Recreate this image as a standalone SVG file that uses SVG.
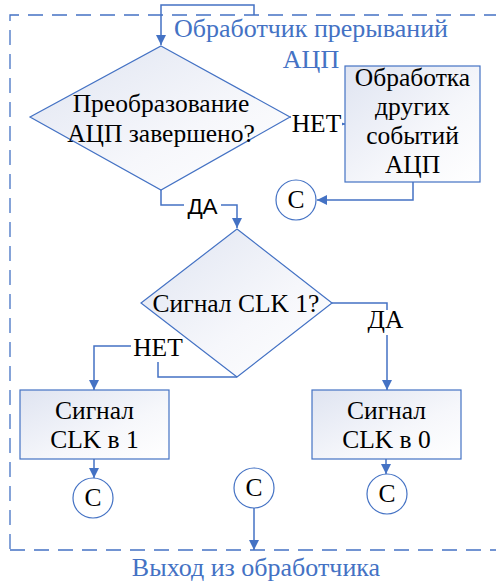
<svg xmlns="http://www.w3.org/2000/svg" width="496" height="582" viewBox="0 0 496 582" font-family="Liberation Serif, Times New Roman, serif">
<defs>
<linearGradient id="fill" x1="0" y1="0" x2="1" y2="1">
<stop offset="0" stop-color="#dfe4f1"/>
<stop offset="0.6" stop-color="#f6f7fb"/>
<stop offset="1" stop-color="#ffffff"/>
</linearGradient>
<marker id="arr" markerUnits="userSpaceOnUse" markerWidth="10" markerHeight="10" refX="10" refY="5" orient="auto" viewBox="0 0 10 10">
<path d="M0,0 L10,5 L0,10 z" fill="#4472C4"/>
</marker>
<style>
.shape{fill:url(#fill);stroke:#4472C4;stroke-width:1.2}
.circ{fill:#ffffff;stroke:#4472C4;stroke-width:1.2}
.t{font-family:'Liberation Serif',serif;font-size:25.5px;fill:#000000;text-anchor:middle}
.ts{font-family:'Liberation Sans',sans-serif;font-size:22.5px;fill:#000000;text-anchor:middle}
.title{font-family:'Liberation Serif',serif;font-size:26px;fill:#4472C4;text-anchor:middle}
.conn{fill:none;stroke:#4472C4;stroke-width:1.5}
.bg{fill:#ffffff}
.frame{fill:none;stroke:#4472C4;stroke-width:1.3;stroke-dasharray:15 9}
</style>
</defs>
<rect width="496" height="582" fill="#ffffff"/>
<g id="frame">
<path class="frame" d="M10,549 V15 H496"/>
<path class="frame" d="M10,550 H496"/>
<text class="title" x="311" y="37">Обработчик прерываний</text>
<text class="title" x="311" y="68">АЦП</text>
<text class="title" x="256" y="576">Выход из обработчика</text>
</g>
<g id="connectors">
<path class="conn" d="M254,15 V5 H161 V45" marker-end="url(#arr)"/>
<path class="conn" d="M290,117 H316 V124 H345" marker-end="url(#arr)"/>
<path class="conn" d="M413,182 V200 H317" marker-end="url(#arr)"/>
<path class="conn" d="M161,190 V205 H237 V228" marker-end="url(#arr)"/>
<path class="conn" d="M332,303 H387 V390" marker-end="url(#arr)"/>
<path class="conn" d="M237,377 H158 V346 H94 V390" marker-end="url(#arr)"/>
<path class="conn" d="M94,459 V478" marker-end="url(#arr)"/>
<path class="conn" d="M386,459 V474" marker-end="url(#arr)"/>
<path class="conn" d="M254,508 V550" marker-end="url(#arr)"/>
<rect class="bg" x="291" y="113" width="51" height="24"/>
<text class="t" x="316.5" y="132">НЕТ</text>
<rect class="bg" x="184" y="196" width="37" height="22"/>
<text class="ts" x="202.5" y="214">ДА</text>
<rect class="bg" x="366" y="310" width="40" height="25"/>
<text class="t" x="385.5" y="328">ДА</text>
<rect class="bg" x="131" y="336" width="54" height="26"/>
<text class="t" x="158" y="356">НЕТ</text>
</g>
<g id="decision1">
<polygon class="shape" points="161,46 290,117 161,190 30,117"/>
<text class="t" x="161" y="112">Преобразование</text>
<text class="t" x="161" y="142">АЦП завершено?</text>
</g>
<g id="process-other">
<rect class="shape" x="345" y="66" width="135" height="116"/>
<text class="t" x="412.5" y="86">Обработка</text>
<text class="t" x="412.5" y="115">других</text>
<text class="t" x="412.5" y="144">событий</text>
<text class="t" x="412.5" y="173">АЦП</text>
</g>
<g id="conn-c1">
<circle class="circ" cx="296" cy="200" r="20"/>
<text class="t" x="296" y="208">C</text>
</g>
<g id="decision2">
<polygon class="shape" points="237,229 332,303 237,377 141,303"/>
<text class="t" x="236" y="312">Сигнал CLK 1?</text>
</g>
<g id="clk1">
<rect class="shape" x="20" y="390" width="149" height="69"/>
<text class="t" x="94.5" y="419">Сигнал</text>
<text class="t" x="94.5" y="448">CLK в 1</text>
</g>
<g id="clk0">
<rect class="shape" x="312" y="390" width="149" height="69"/>
<text class="t" x="386.5" y="419">Сигнал</text>
<text class="t" x="386.5" y="448">CLK в 0</text>
</g>
<g id="conn-c2">
<circle class="circ" cx="93" cy="498" r="20"/>
<text class="t" x="93" y="506">C</text>
</g>
<g id="conn-c3">
<circle class="circ" cx="254" cy="488" r="20"/>
<text class="t" x="254" y="496">C</text>
</g>
<g id="conn-c4">
<circle class="circ" cx="387" cy="494" r="20"/>
<text class="t" x="387" y="502">C</text>
</g>
</svg>
